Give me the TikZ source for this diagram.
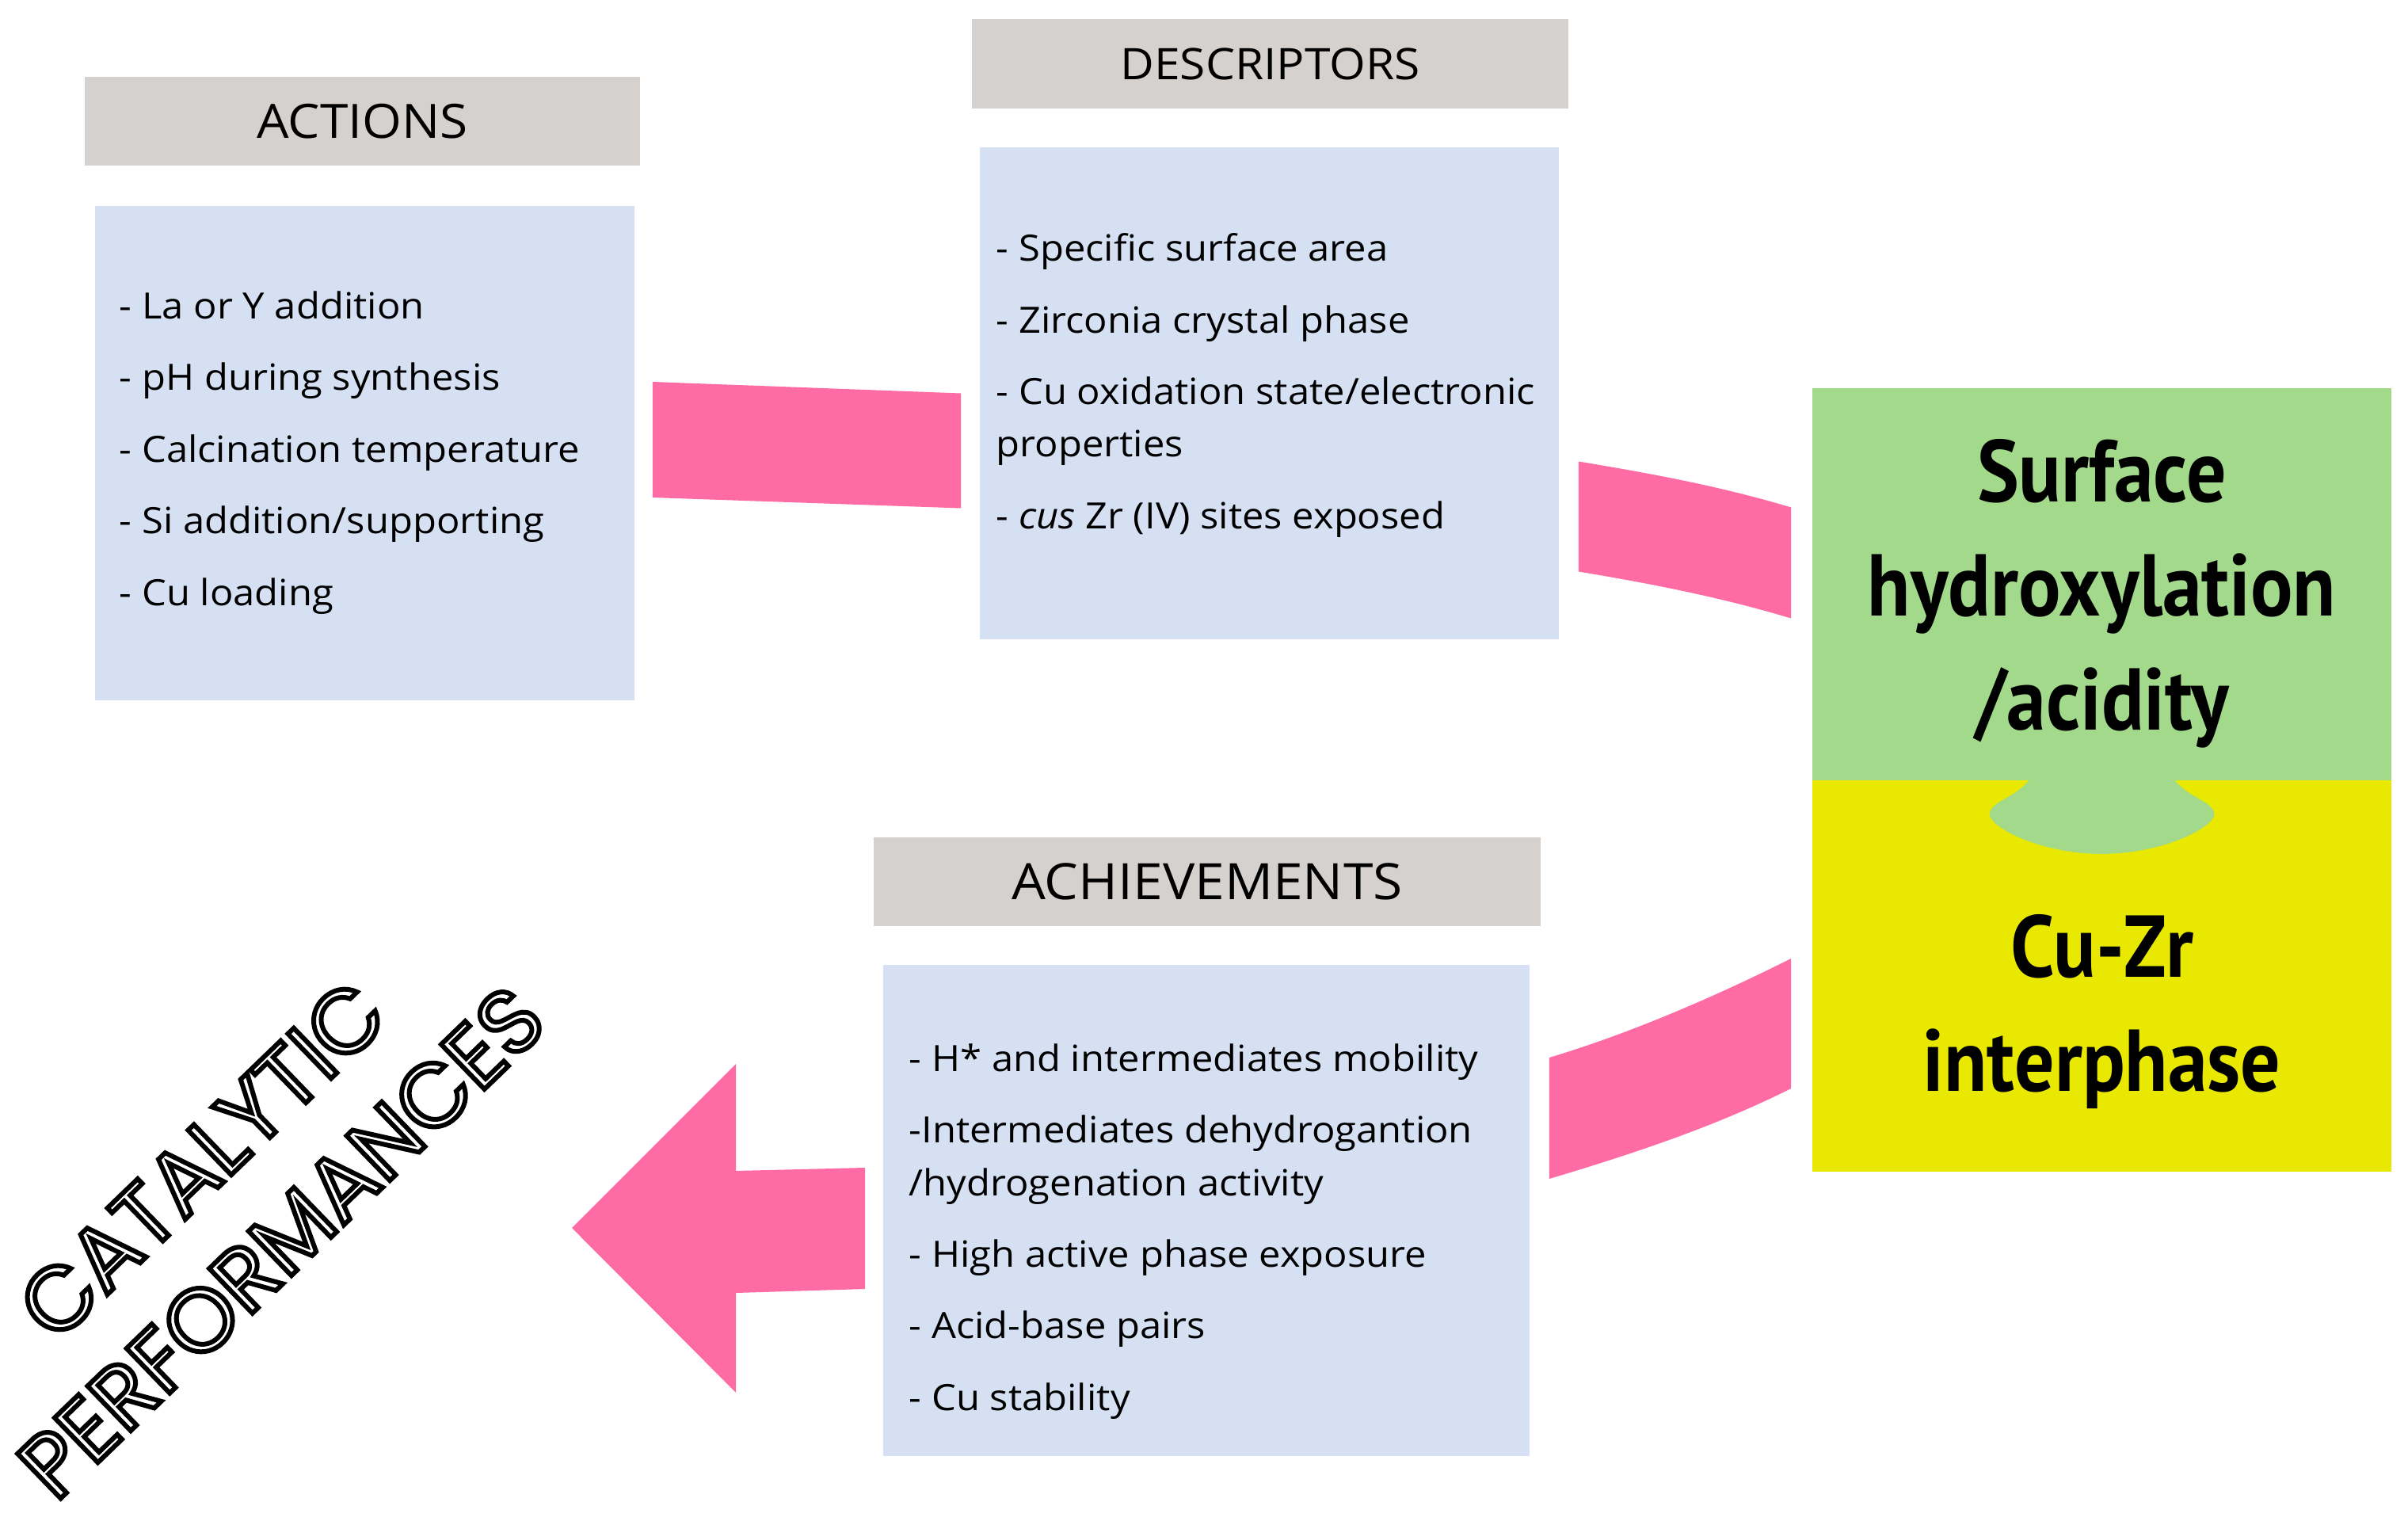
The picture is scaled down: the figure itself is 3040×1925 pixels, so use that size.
\documentclass[tikz,border=0pt]{standalone}
\usepackage{fontspec}
\setmainfont{Open Sans}[FakeStretch=1.07]
\newfontfamily\boldcond[FakeStretch=0.9]{PT Sans}
\newfontfamily\perffont{Poppins}
\usetikzlibrary{calc}

% hollow (stroked) letters
\newcommand\outlinetext[1]{\special{pdf:code q 1 Tr 1.7 w}#1\special{pdf:code Q}}

\definecolor{headgray}{HTML}{D4D1CF}
\definecolor{bodyblue}{HTML}{D5E0F2}
\definecolor{bandpink}{HTML}{FF6BA4}
\definecolor{hydgreen}{HTML}{A3D98B}
\definecolor{cuyellow}{HTML}{E8E800}

\tikzset{
  headbox/.style={fill=headgray, minimum height=1.12cm, inner sep=0},
  listbox/.style={fill=bodyblue, inner sep=0},
  listtxt/.style={anchor=north west, align=left, inner sep=0,
    font=\fontsize{13}{18.8}\selectfont},
  bigbox/.style={minimum width=7.31cm, minimum height=4.95cm, inner sep=0},
  bigtxt/.style={align=center, inner sep=0,
    font=\boldcond\bfseries\fontsize{31.5}{41}\selectfont},
}

\begin{document}
\begin{tikzpicture}[x=0.01cm, y=-0.01cm]
    \useasboundingbox (0,0) rectangle (3040,1925);
    \fill[white] (0,0) rectangle (3040,1925);

    % Actions
    \node[headbox, minimum width=7.01cm, font=\fontsize{17}{20}\selectfont] (acthead) at (457.5,153) {ACTIONS};
    \node[listbox, minimum width=6.81cm, minimum height=6.24cm] (act) at (460.5,572) {};
    \node[listtxt] (actlist) at ($(act.north west)+(31,108)$)
      {- La or Y addition\\[6.9pt]
       - pH during synthesis\\[6.9pt]
       - Calcination temperature\\[6.9pt]
       - Si addition/supporting\\[6.9pt]
       - Cu loading};

    % Descriptors
    \node[headbox, minimum width=7.53cm, font=\fontsize{15.6}{19}\selectfont] (deschead) at (1603.5,80.5) {DESCRIPTORS};
    \node[listbox, minimum width=7.31cm, minimum height=6.21cm] (desc) at (1602.5,496.5) {};
    \node[listtxt] (desclist) at ($(desc.north west)+(21,109)$)
      {- Specific surface area\\[6.9pt]
       - Zirconia crystal phase\\[6.9pt]
       - Cu oxidation state/electronic\\
       properties\\[6.9pt]
       - \textit{cus} Zr (IV) sites exposed};

    % Achievements
    \node[headbox, minimum width=8.42cm, font=\fontsize{18}{22}\selectfont] (achvhead) at (1524,1113) {ACHIEVEMENTS};
    \node[listbox, minimum width=8.16cm, minimum height=6.20cm] (achv) at (1523,1528) {};
    \node[listtxt] (achvlist) at ($(achv.north west)+(33,100)$)
      {- H* and intermediates mobility\\[6.9pt]
       -Intermediates dehydrogantion\\
       /hydrogenation activity\\[6.9pt]
       - High active phase exposure\\[6.9pt]
       - Acid-base pairs\\[6.9pt]
       - Cu stability};

    % Surface / interphase block
    \node[bigbox, fill=hydgreen] (hydrox) at (2653.5,737.5) {};
    \node[bigbox, fill=cuyellow, minimum height=4.94cm] (interph) at (2653.5,1232) {};
    \begin{scope}[shift={(hydrox.south)}]
      \fill[hydgreen] (-92,-1) .. controls (-110,22) and (-140,25) .. (-142,42)
        .. controls (-140,60) and (-75,92) .. (0,92)
        .. controls (75,92) and (140,60) .. (142,42)
        .. controls (140,25) and (110,22) .. (92,-1) -- cycle;
    \end{scope}
    \node[bigtxt] (hydroxtxt) at ($(hydrox.center)+(0,12)$) {Surface\\hydroxylation\\/acidity};
    \node[bigtxt] (interphtxt) at ($(interph.center)+(0,45)$) {Cu-Zr\\interphase};

    % Pink bands
    \fill[bandpink] ($(act.east)+(22,-90)$) -- ($(desc.west)+(-23,0)$)
      -- ($(desc.west)+(-23,145)$) -- ($(act.east)+(22,56)$) -- cycle;
    \fill[bandpink] ($(desc.east)+(24,86)$) .. controls +(90,15) and +(-90,-27) .. ($(hydrox.west)+(-26,-97)$)
      -- ($(hydrox.west)+(-26,43)$) .. controls +(-90,-27) and +(90,15) .. ($(desc.east)+(24,225)$) -- cycle;
    \fill[bandpink] ($(achv.east)+(24,-193)$) .. controls +(100,-30) and +(-100,50) .. ($(interph.west)+(-26,-22)$)
      -- ($(interph.west)+(-26,142)$) .. controls +(-100,50) and +(100,-30) .. ($(achv.east)+(24,-40)$) -- cycle;

    % Big arrow
    \fill[bandpink] ($(achv.west)+(-22,-54)$) -- ++(-163,4) -- ++(0,-135) -- ++(-207,207)
      -- ++(207,208) -- ++(0,-126) -- ++(163,-5) -- cycle;

    % Catalytic performances
    \node[rotate=44, align=center, inner sep=0,
      font=\perffont\fontsize{32}{41}\selectfont] (perf) at (305,1516)
      {\outlinetext{CATALYTIC}\\\outlinetext{PERFORMANCES}};
\end{tikzpicture}
\end{document}
